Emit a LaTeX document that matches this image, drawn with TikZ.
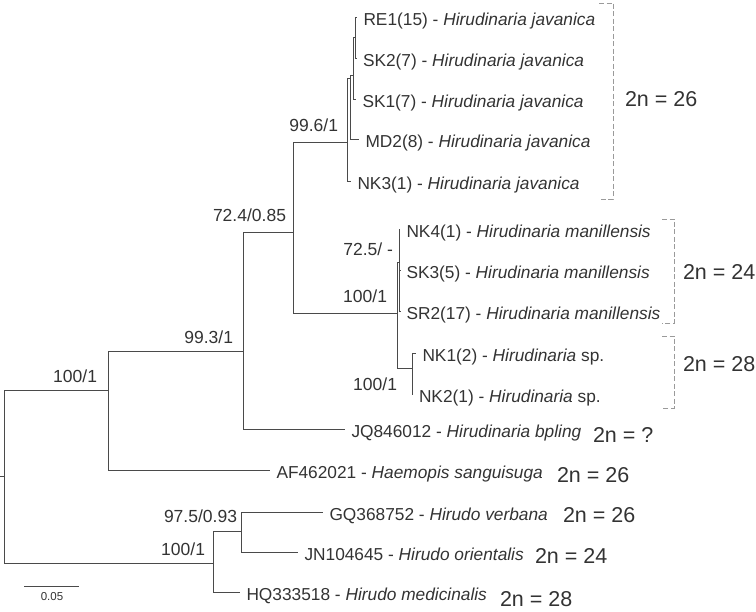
\documentclass[tikz,border=0pt]{standalone}
\usepackage{fontspec}
\setmainfont{Liberation Sans}
\usetikzlibrary{calc}
\definecolor{linec}{HTML}{4A4A4A}
\definecolor{txtc}{HTML}{333333}
\definecolor{brkc}{HTML}{9A9A9A}
\begin{document}
\begin{tikzpicture}[x=1pt,y=-1pt,
  br/.style={draw=linec, line width=0.8pt},
  leaf/.style={anchor=base west, inner sep=0pt, outer sep=0pt, text=txtc, font=\fontsize{17.3}{20}\selectfont},
  sup/.style={anchor=base east, inner sep=0pt, outer sep=0pt, text=txtc, font=\fontsize{17.5}{20}\selectfont},
  chrom/.style={anchor=base west, inner sep=0pt, outer sep=0pt, text=txtc, font=\fontsize{21.5}{24}\selectfont},
  brk/.style={draw=brkc, line width=0.8pt, dash pattern=on 5pt off 2.5pt}]
\useasboundingbox (0,0) rectangle (756,612);

% leaf ends
\foreach \n/\x/\y in {RE1/357/17, SK2/356.5/58, SK1/356/99, MD2/359/139, NK3/351/181,
  NK4/400/229, SK3/400/270, SR2/400/311, NK1/416/353, NK2/412.5/394,
  JQ/345/429, AF/270/470, GQ/323/512, JN/298/552, HQ/240/592}
  {\coordinate (e\n) at (\x,\y);}

% inner nodes
\coordinate (stub) at (0,476);
\coordinate (R0) at (4,476);
\coordinate (A) at (108,390);
\coordinate (B) at (243,351);
\coordinate (C) at (293,232);
\coordinate (N1) at (347,142);
\coordinate (N2) at (350.5,78);
\coordinate (N3) at (353,75);
\coordinate (N4) at (355.5,37);
\coordinate (P) at (397,313);
\coordinate (Q) at (399,262);
\coordinate (R) at (399.5,290);
\coordinate (S) at (412,368);
\coordinate (H1) at (213,563);
\coordinate (H2) at (241,531);

% branches
\draw[br] (stub) -- (R0);
\draw[br] (R0) |- (A);   \draw[br] (R0) |- (H1);
\draw[br] (A) |- (B);    \draw[br] (A) |- (eAF);
\draw[br] (B) |- (C);    \draw[br] (B) |- (eJQ);
\draw[br] (C) |- (N1);   \draw[br] (C) |- (P);
\draw[br] (N1) |- (N2);  \draw[br] (N1) |- (eNK3);
\draw[br] (N2) |- (N3);  \draw[br] (N2) |- (eMD2);
\draw[br] (N3) |- (N4);  \draw[br] (N3) |- (eSK1);
\draw[br] (N4) |- (eRE1); \draw[br] (N4) |- (eSK2);
\draw[br] (P) |- (Q);    \draw[br] (P) |- (S);
\draw[br] (Q) |- (eNK4); \draw[br] (Q) |- (R);
\draw[br] (R) |- (eSK3); \draw[br] (R) |- (eSR2);
\draw[br] (S) |- (eNK1); \draw[br] (S) |- (eNK2);
\draw[br] (H1) |- (H2);  \draw[br] (H1) |- (eHQ);
\draw[br] (H2) |- (eGQ); \draw[br] (H2) |- (eJN);

% leaf labels
\node[leaf] (tRE1) at ($(eRE1)+(6.5,8.5)$) {RE1(15) - \textit{Hirudinaria javanica}};
\node[leaf] (tSK2) at ($(eSK2)+(6.5,8.5)$) {SK2(7) - \textit{Hirudinaria javanica}};
\node[leaf] (tSK1) at ($(eSK1)+(6.5,8.5)$) {SK1(7) - \textit{Hirudinaria javanica}};
\node[leaf] (tMD2) at ($(eMD2)+(6.5,8.5)$) {MD2(8) - \textit{Hirudinaria javanica}};
\node[leaf] (tNK3) at ($(eNK3)+(6.5,8.5)$) {NK3(1) - \textit{Hirudinaria javanica}};
\node[leaf] (tNK4) at ($(eNK4)+(6.5,8.5)$) {NK4(1) - \textit{Hirudinaria manillensis}};
\node[leaf] (tSK3) at ($(eSK3)+(6.5,8.5)$) {SK3(5) - \textit{Hirudinaria manillensis}};
\node[leaf] (tSR2) at ($(eSR2)+(6.5,8.5)$) {SR2(17) - \textit{Hirudinaria manillensis}};
\node[leaf] (tNK1) at ($(eNK1)+(6.5,8.5)$) {NK1(2) - \textit{Hirudinaria} sp.};
\node[leaf] (tNK2) at ($(eNK2)+(6.5,8.5)$) {NK2(1) - \textit{Hirudinaria} sp.};
\node[leaf] (tJQ) at ($(eJQ)+(6.5,8.5)$) {JQ846012 - \textit{Hirudinaria bpling}};
\node[leaf] (tAF) at ($(eAF)+(6.5,8.5)$) {AF462021 - \textit{Haemopis sanguisuga}};
\node[leaf] (tGQ) at ($(eGQ)+(6.5,8.5)$) {GQ368752 - \textit{Hirudo verbana}};
\node[leaf] (tJN) at ($(eJN)+(6.5,8.5)$) {JN104645 - \textit{Hirudo orientalis}};
\node[leaf] (tHQ) at ($(eHQ)+(6.5,8.5)$) {HQ333518 - \textit{Hirudo medicinalis}};

% support values
\node[sup] (s1) at (97,383) {100/1};
\node[sup] (s2) at (233,344) {99.3/1};
\node[sup] (s3) at (286,222) {72.4/0.85};
\node[sup] (s4) at (338,132) {99.6/1};
\node[sup] (s5) at (393,256) {72.5/ -};
\node[sup] (s6) at (387,303) {100/1};
\node[sup] (s7) at (397,391) {100/1};
\node[sup] (s8) at (237,523) {97.5/0.93};
\node[sup] (s9) at (205,556) {100/1};

% brackets
\draw[brk] (599,3) -- (613,3) -- (613,199) -- (599,199);
\draw[brk] (662,219) -- (674,219) -- (674,323) -- (662,323);
\draw[brk] (662,336) -- (674,336) -- (674,408) -- (662,408);

% chromosome numbers
\node[chrom] (c1) at (625,107) {2n = 26};
\node[chrom] (c2) at (683,280) {2n = 24};
\node[chrom] (c3) at (683,372) {2n = 28};
\node[chrom] (c4) at (593,443) {2n = ?};
\node[chrom] (c5) at (557,483) {2n = 26};
\node[chrom] (c6) at (563,522) {2n = 26};
\node[chrom] (c7) at (535,563) {2n = 24};
\node[chrom] (c8) at (500,606) {2n = 28};

% scale bar
\coordinate (sb1) at (24,586);
\coordinate (sb2) at (79,586);
\draw[br] (sb1) -- (sb2);
\node[inner sep=0pt, text=txtc, font=\fontsize{11.5}{13}\selectfont] (sbl) at (52,597) {0.05};
\end{tikzpicture}
\end{document}
